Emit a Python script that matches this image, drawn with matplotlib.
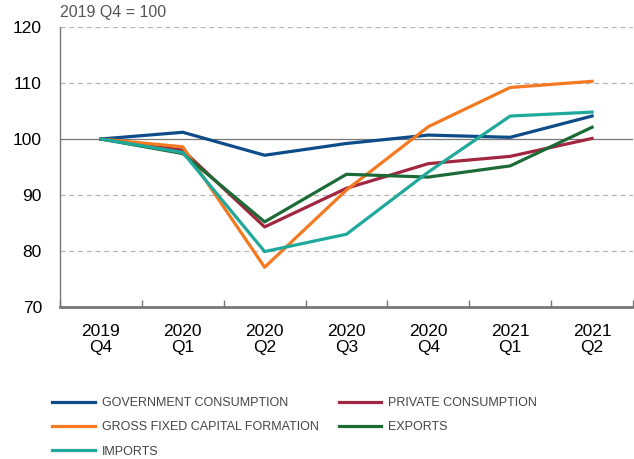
import matplotlib.pyplot as plt
from matplotlib.ticker import FixedLocator

# quarters on the x axis
quarters = ["2019\nQ4", "2020\nQ1", "2020\nQ2", "2020\nQ3", "2020\nQ4", "2021\nQ1", "2021\nQ2"]

# index values, 2019 Q4 = 100
government = [100, 101.2, 97.1, 99.2, 100.7, 100.3, 104.1]
private = [100, 98.0, 84.3, 91.2, 95.6, 96.9, 100.1]
gfcf = [100, 98.6, 77.1, 90.9, 102.2, 109.2, 110.3]
exports = [100, 97.4, 85.2, 93.7, 93.2, 95.2, 102.1]
imports = [100, 97.6, 79.9, 83.0, 94.1, 104.1, 104.8]

plt.rcParams["font.family"] = ["Liberation Sans", "DejaVu Sans"]

fig = plt.figure(figsize=(6.34, 4.59), dpi=100)
ax = fig.add_axes([60 / 634, 1 - 307 / 459, 573 / 634, 280 / 459])

x = range(len(quarters))

# grid lines and the base line at 100
for level in [80, 90, 110, 120]:
    ax.axhline(level, color="#b5b5b5", lw=0.9, ls=(0, (4, 3)), zorder=0)
ax.axhline(100, color="#777777", lw=0.9, zorder=1)

l_gov, = ax.plot(x, government, color="#0d4c89", lw=2.3, label="GOVERNMENT CONSUMPTION")
l_priv, = ax.plot(x, private, color="#a1263f", lw=2.3, label="PRIVATE CONSUMPTION")
l_gfcf, = ax.plot(x, gfcf, color="#f47920", lw=2.3, label="GROSS FIXED CAPITAL FORMATION")
l_exp, = ax.plot(x, exports, color="#1c6b37", lw=2.3, label="EXPORTS")
l_imp, = ax.plot(x, imports, color="#1fa99b", lw=2.3, label="IMPORTS")

ax.set_xlim(-0.5, 6.5)
ax.set_ylim(70, 120)
ax.set_yticks([70, 80, 90, 100, 110, 120])
ax.set_xticks(list(x))
ax.set_xticklabels(quarters, fontsize=12.5, linespacing=1.1)
ax.tick_params(axis="x", which="major", length=0, pad=12)
ax.xaxis.set_minor_locator(FixedLocator([i + 0.5 for i in range(-1, 7)]))
ax.tick_params(axis="x", which="minor", direction="in", length=5, color="#777777", width=1)
ax.tick_params(axis="y", length=0, labelsize=12.5, pad=13)

for side in ["top", "right"]:
    ax.spines[side].set_visible(False)
ax.spines["left"].set_color("#777777")
ax.spines["left"].set_linewidth(1.0)
ax.spines["bottom"].set_color("#777777")
ax.spines["bottom"].set_linewidth(2.0)

fig.text(60 / 634, 1 - 13 / 459, "2019 Q4 = 100", fontsize=11.5, color="#555555", va="center")

fig.legend(
    [l_gov, l_gfcf, l_imp, l_priv, l_exp],
    [l.get_label() for l in [l_gov, l_gfcf, l_imp, l_priv, l_exp]],
    ncol=2, loc="upper left", bbox_to_anchor=(41 / 634, 1 - 386 / 459),
    frameon=False, handlelength=3.4, handletextpad=0.55, columnspacing=1.6,
    labelspacing=0.98, prop={"size": 9}, labelcolor="#444444",
)

fig.savefig("out.png", dpi=100)
